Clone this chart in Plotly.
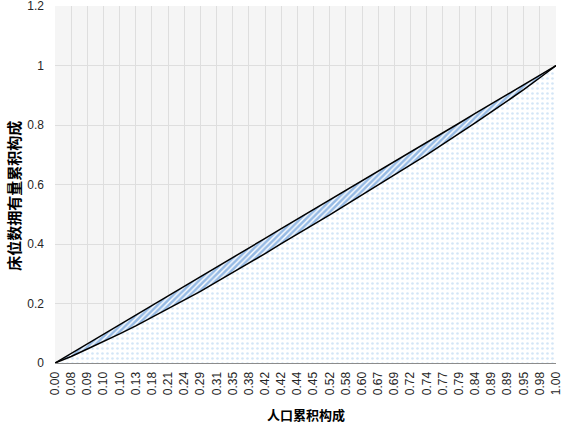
import plotly.graph_objects as go

x_labels = ["0.00", "0.08", "0.09", "0.10", "0.10", "0.13", "0.18", "0.21", "0.24", "0.29",
            "0.31", "0.35", "0.38", "0.42", "0.42", "0.44", "0.45", "0.52", "0.58", "0.60",
            "0.67", "0.69", "0.72", "0.74", "0.77", "0.79", "0.84", "0.89", "0.89", "0.95",
            "0.98", "1.00"]
equality = [0, 0.032, 0.065, 0.097, 0.129, 0.161, 0.194, 0.226, 0.258, 0.290,
            0.323, 0.355, 0.387, 0.419, 0.452, 0.484, 0.516, 0.548, 0.581, 0.613,
            0.645, 0.677, 0.710, 0.742, 0.774, 0.806, 0.839, 0.871, 0.903, 0.935,
            0.968, 1.0]
lorenz = [0, 0.022, 0.047, 0.072, 0.098, 0.125, 0.154, 0.182, 0.211, 0.241,
          0.273, 0.304, 0.336, 0.368, 0.401, 0.433, 0.466, 0.498, 0.532, 0.565,
          0.598, 0.631, 0.666, 0.700, 0.735, 0.770, 0.807, 0.844, 0.881, 0.919,
          0.959, 1.0]
y_ticks = [0, 0.2, 0.4, 0.6, 0.8, 1, 1.2]

idx = list(range(len(x_labels)))

fig = go.Figure()
fig.add_trace(go.Scatter(
    x=idx, y=lorenz, mode="lines", fill="tozeroy",
    line=dict(color="black", width=1.5),
    fillcolor="rgba(0,0,0,0)",
    fillpattern=dict(shape=".", fgcolor="#a9cdee", bgcolor="white", size=5, solidity=0.22),
    showlegend=False, hoverinfo="skip"))
fig.add_trace(go.Scatter(
    x=idx, y=equality, mode="lines", fill="tonexty",
    line=dict(color="black", width=1.5),
    fillcolor="rgba(0,0,0,0)",
    fillpattern=dict(shape="/", fgcolor="#2f78cc", bgcolor="white", size=4, solidity=0.65),
    showlegend=False, hoverinfo="skip"))

font_tick = dict(family="Liberation Sans, DejaVu Sans, sans-serif", size=12, color="#262626")
fig.update_layout(
    width=566, height=426,
    margin=dict(l=55, r=10, t=6, b=63, autoexpand=False),
    paper_bgcolor="white", plot_bgcolor="#f5f5f5",
    xaxis=dict(
        range=[0, len(x_labels) - 1], tickmode="array", tickvals=idx, ticktext=x_labels,
        tickangle=-90, tickfont=font_tick, showgrid=True, gridcolor="#dedede", gridwidth=1,
        showline=True, linecolor="#8c8c8c", linewidth=1, zeroline=False, ticks="",
        ticklabelstandoff=3, ticklabeloverflow="allow", automargin=False),
    yaxis=dict(
        range=[0, 1.2003], tickmode="array", tickvals=y_ticks,
        tickfont=dict(family="Liberation Sans, DejaVu Sans, sans-serif", size=12, color="#262626"),
        showgrid=True, gridcolor="#dedede", gridwidth=1, zeroline=False, showline=False,
        ticks="", ticklabelstandoff=10, ticklabeloverflow="allow", automargin=False),
    annotations=[
        dict(text="<b>人口累积构成</b>", xref="paper", yref="paper", x=0.5, y=0,
             yshift=-40, xanchor="center", yanchor="top", showarrow=False,
             font=dict(family="Noto Sans CJK SC", size=13, color="black")),
        dict(text="<b>床位数拥有量累积构成</b>", xref="paper", yref="paper", x=0, y=0.47,
             xshift=-29, xanchor="right", yanchor="middle", textangle=-90, showarrow=False,
             font=dict(family="Noto Sans CJK SC", size=15, color="black")),
    ],
)

fig.write_html("out.html", config={"displayModeBar": False},
               post_script="document.body.style.margin='0';document.body.style.overflow='hidden';")
